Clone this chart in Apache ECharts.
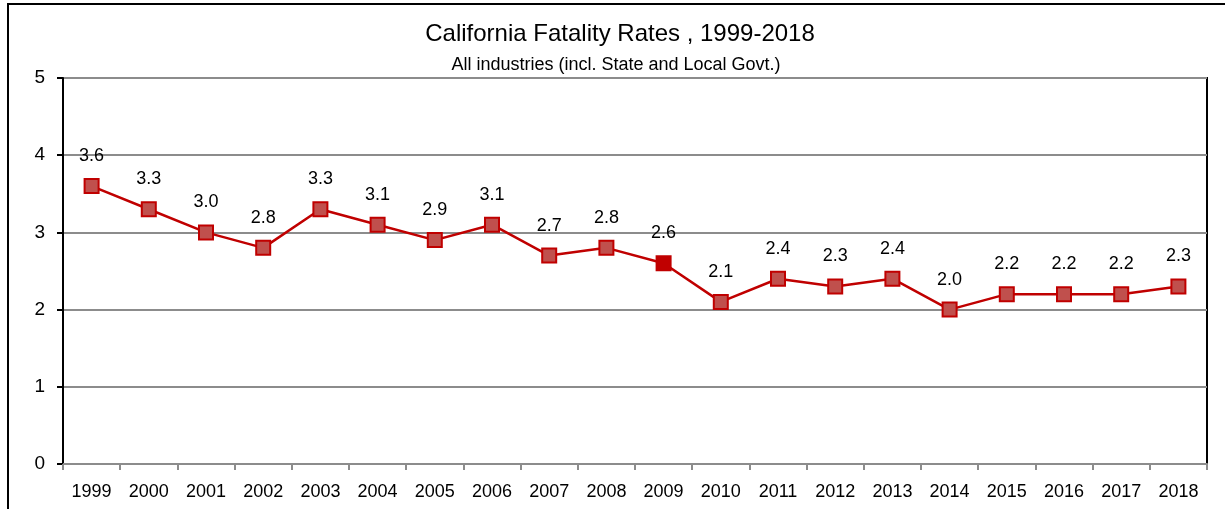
<!DOCTYPE html>
<html>
<head>
<meta charset="utf-8">
<script src="https://cdn.jsdelivr.net/npm/echarts@6/dist/echarts.min.js"></script>
<style>
  html, body { margin: 0; padding: 0; background: #fff; }
  #chart { width: 1225px; height: 509px; }
</style>
</head>
<body>
<div id="chart"></div>
<script>
const years = ['1999', '2000', '2001', '2002', '2003', '2004', '2005', '2006', '2007', '2008',
  '2009', '2010', '2011', '2012', '2013', '2014', '2015', '2016', '2017', '2018'];
const rates = [3.6, 3.3, 3.0, 2.8, 3.3, 3.1, 2.9, 3.1, 2.7, 2.8,
  2.6, 2.1, 2.4, 2.3, 2.4, 2.0, 2.2, 2.2, 2.2, 2.3];
const highlightYear = '2009';
const yTicks = [0, 1, 2, 3, 4, 5];

const font = '"Liberation Sans", Arial, sans-serif';

let myChart = echarts.init(document.getElementById('chart'));

// one point per year, 2009 has a solid marker
const points = rates.map((v, i) => {
  if (years[i] === highlightYear) {
    return {value: v, itemStyle: {color: '#C00000'}};
  }
  return v;
});

let option = {
  animation: false,
  textStyle: {fontFamily: font},
  title: [
    {
      text: 'California Fatality Rates , 1999-2018',
      left: 615,
      top: 17,
      textAlign: 'center',
      textStyle: {fontFamily: font, fontSize: 24, fontWeight: 'normal', color: '#000'}
    },
    {
      text: 'All industries (incl. State and Local Govt.)',
      left: 611,
      top: 51,
      textAlign: 'center',
      textStyle: {fontFamily: font, fontSize: 18, fontWeight: 'normal', color: '#000'}
    }
  ],
  grid: {
    left: 63,
    right: 18,
    top: 78,
    bottom: 45,
    show: true,
    borderColor: '#000',
    borderWidth: 2
  },
  xAxis: {
    type: 'category',
    data: years,
    boundaryGap: true,
    axisLine: {lineStyle: {color: '#8c8c8c', width: 2}},
    axisTick: {show: true, length: 6, lineStyle: {color: '#8c8c8c', width: 2}},
    axisLabel: {interval: 0, fontFamily: font, fontSize: 18, color: '#000', margin: 19}
  },
  yAxis: {
    type: 'value',
    min: yTicks[0],
    max: yTicks[yTicks.length - 1],
    interval: 1,
    axisLine: {show: true, lineStyle: {color: '#000', width: 2}},
    axisTick: {show: true, length: 6, lineStyle: {color: '#000', width: 2}},
    axisLabel: {fontFamily: font, fontSize: 19, color: '#000', margin: 18},
    splitLine: {show: true, lineStyle: {color: '#8c8c8c', width: 2}}
  },
  series: [
    {
      name: 'Fatality rate',
      type: 'line',
      data: points,
      symbol: 'rect',
      symbolSize: 14,
      itemStyle: {color: '#C0504D', borderColor: '#C00000', borderWidth: 2},
      lineStyle: {color: '#C00000', width: 2.5},
      label: {
        show: true,
        position: 'top',
        distance: 13,
        fontFamily: font,
        fontSize: 18,
        color: '#000',
        formatter: p => Number(p.value).toFixed(1)
      }
    }
  ],
  // outer frame of the chart picture
  graphic: [
    {
      type: 'rect',
      shape: {x: 8, y: 4, width: 1230, height: 520},
      style: {fill: null, stroke: '#000', lineWidth: 2},
      silent: true
    }
  ]
};

myChart.setOption(option);
</script>
</body>
</html>
